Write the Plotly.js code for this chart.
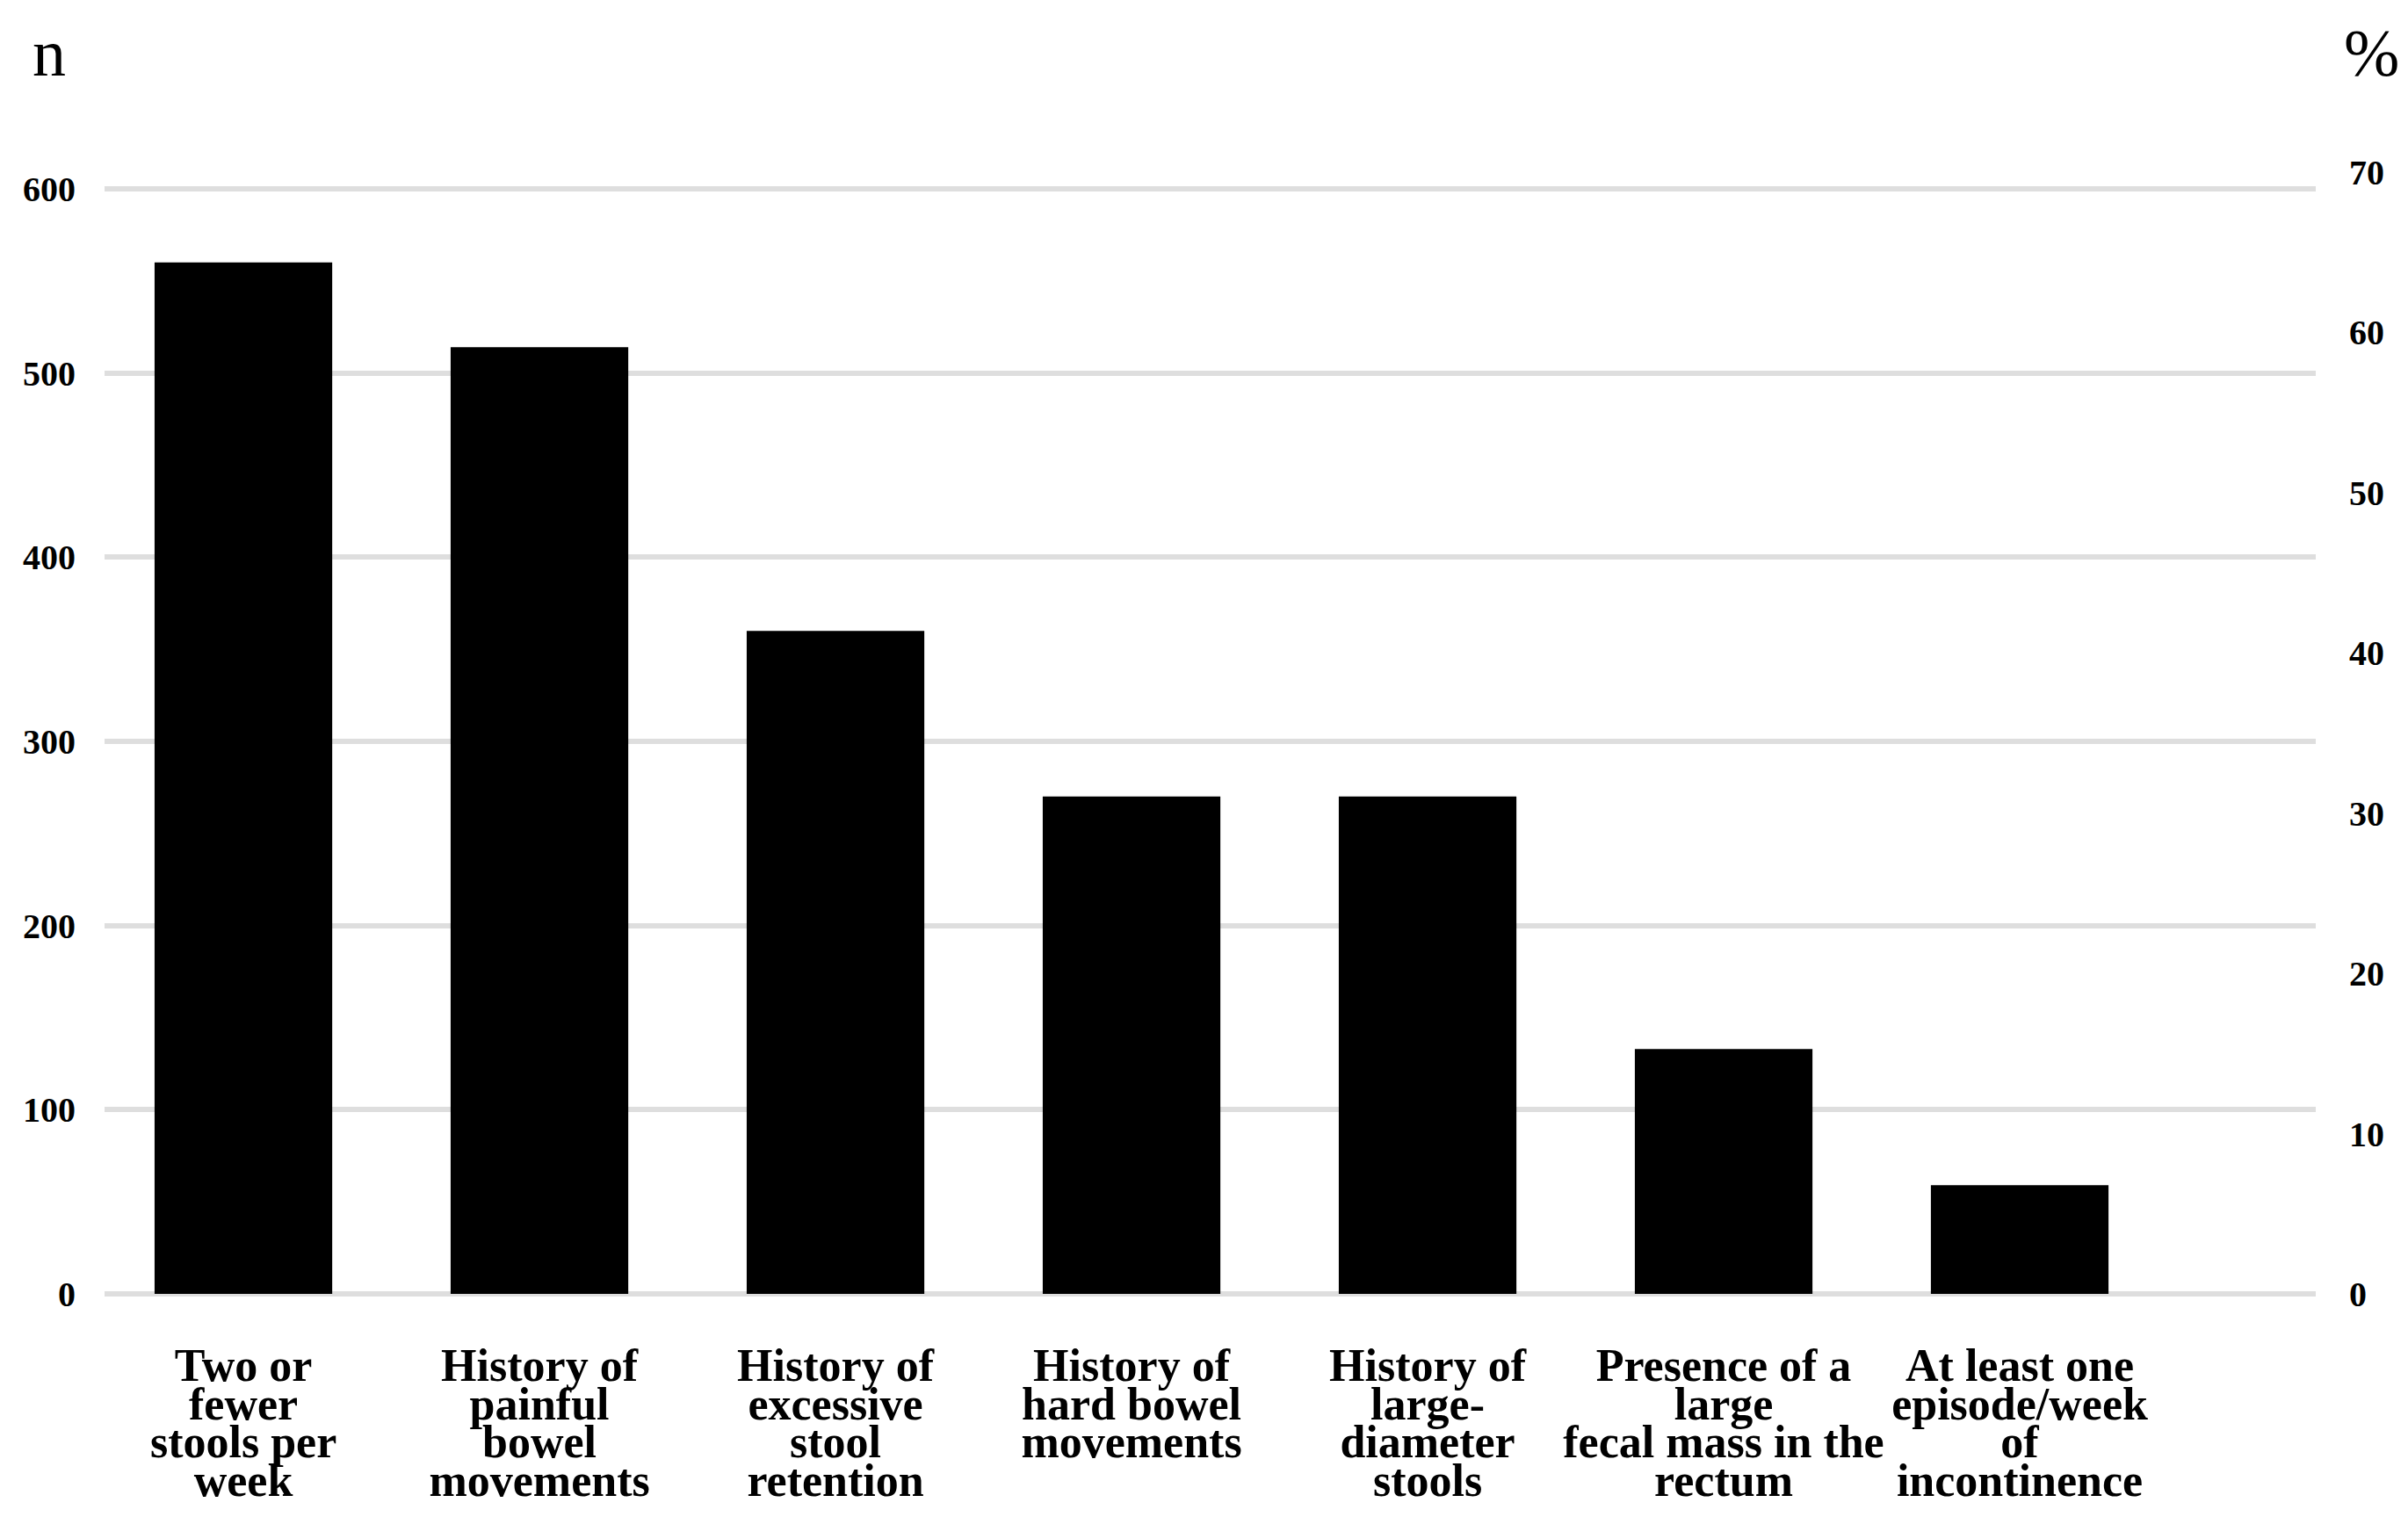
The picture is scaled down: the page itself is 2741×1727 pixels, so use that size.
<!DOCTYPE html>
<html><head><meta charset="utf-8">
<script src="https://cdn.plot.ly/plotly-3.0.1.min.js"></script>
<style>html,body{margin:0;padding:0;background:#fff;} #chart{width:2741px;height:1727px;}</style>
</head><body><div id="chart"></div>
<script>
const categories = [
  "Two or<br>fewer<br>stools per<br>week",
  "History of<br>painful<br>bowel<br>movements",
  "History of<br>excessive<br>stool<br>retention",
  "History of<br>hard bowel<br>movements",
  "History of<br>large-<br>diameter<br>stools",
  "Presence of a<br>large<br>fecal mass in the<br>rectum",
  "At least one<br>episode/week<br>of<br>incontinence"
];
const counts = [560, 514, 360, 270, 270, 133, 59];
const leftTicks = [0, 100, 200, 300, 400, 500, 600];
const rightTicks = [0, 10, 20, 30, 40, 50, 60, 70];
const leftTitle = "n";
const rightTitle = "%";

const FONT = '"Liberation Serif", "Times New Roman", serif';
const leftMax = 620;
const nPerPercent = 8.7;

const data = [
  {
    type: 'bar',
    x: categories,
    y: counts,
    marker: {color: '#000000', line: {width: 0}},
    hoverinfo: 'none'
  },
  {
    // empty trace so that the secondary (%) axis is drawn
    type: 'scatter', mode: 'markers',
    x: [], y: [],
    yaxis: 'y2',
    showlegend: false, hoverinfo: 'none'
  }
];

const layout = {
  width: 2741, height: 1727,
  margin: {l: 119, r: 105, t: 173, b: 254, pad: 0},
  paper_bgcolor: '#ffffff', plot_bgcolor: '#ffffff',
  showlegend: false,
  bargap: 0.4,
  font: {family: FONT, color: '#000000'},
  xaxis: {
    type: 'category',
    range: [-0.469, 7.0],
    showgrid: false, zeroline: false, showline: false, ticks: '',
    tickangle: 0,
    tickfont: {family: FONT, size: 52, weight: 'bold', color: '#000'},
    ticklabelstandoff: 46,
    automargin: false
  },
  yaxis: {
    range: [0, leftMax],
    tickvals: leftTicks,
    ticktext: leftTicks.map(String),
    showgrid: true, gridcolor: '#dedede', gridwidth: 6,
    zeroline: true, zerolinecolor: '#dedede', zerolinewidth: 6,
    showline: false, ticks: '',
    tickfont: {family: FONT, size: 40, weight: 'bold', color: '#000'},
    ticklabelstandoff: 32,
    automargin: false
  },
  yaxis2: {
    overlaying: 'y', side: 'right', anchor: 'x',
    range: [0, leftMax / nPerPercent],
    tickvals: rightTicks,
    ticktext: rightTicks.map(String),
    showgrid: false, zeroline: false, showline: false, ticks: '',
    tickfont: {family: FONT, size: 40, weight: 'bold', color: '#000'},
    ticklabelstandoff: 37,
    automargin: false
  },
  annotations: [
    {text: leftTitle, xref: 'paper', yref: 'paper', x: -0.025, y: 1.087,
     xanchor: 'center', yanchor: 'middle', showarrow: false,
     font: {family: FONT, size: 76, color: '#000'}},
    {text: rightTitle, xref: 'paper', yref: 'paper', x: 1.0254, y: 1.087,
     xanchor: 'center', yanchor: 'middle', showarrow: false,
     font: {family: FONT, size: 76, color: '#000'}}
  ]
};

Plotly.newPlot('chart', data, layout, {staticPlot: true, displayModeBar: false}).then(function (gd) {
  gd.querySelectorAll('.xtick text').forEach(function (t) {
    t.querySelectorAll('tspan.line').forEach(function (ts, i) {
      ts.setAttribute('dy', (i * 0.84) + 'em');
    });
  });
});
</script>
</body></html>
